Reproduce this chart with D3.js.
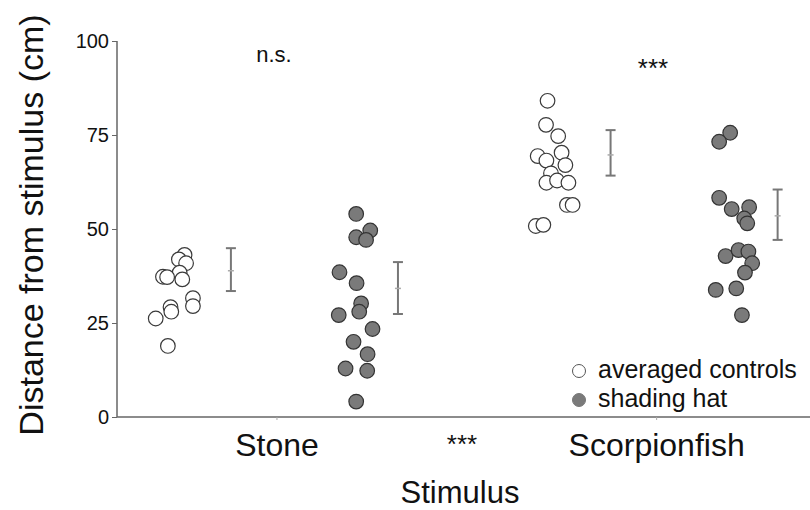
<!DOCTYPE html>
<html>
<head>
<meta charset="utf-8">
<script src="https://cdn.jsdelivr.net/npm/d3@7"></script>
<style>
  body { margin: 0; background: #fff; }
  text { font-family: "Liberation Sans", Arial, sans-serif; fill: #111; }
</style>
</head>
<body>
<svg id="chart" width="810" height="510"></svg>
<script>
// categories and groups
const stimuli = ["Stone", "Scorpionfish"]
const groups = ["averaged controls", "shading hat"]
const y_ticks = [0, 25, 50, 75, 100]

// distances (cm), with the jitter used to spread them
const stone_control = [43.1, 41.9, 40.9, 38.4, 36.6, 37.3, 37.2, 31.6, 29.5, 29.2, 28.0, 26.2, 18.9]
const stone_control_jit = [0.028, 0.013, 0.032, 0.015, 0.022, -0.029, -0.018, 0.05, 0.05, -0.009, -0.007, -0.048, -0.016]
const stone_hat = [54.0, 49.6, 47.8, 47.1, 38.5, 35.6, 30.2, 28.0, 27.1, 23.4, 20.0, 16.7, 12.9, 12.3, 4.1]
const stone_hat_jit = [0, 0.037, 0, 0.026, -0.044, 0.001, 0.013, 0.008, -0.046, 0.043, -0.007, 0.03, -0.028, 0.029, 0]
const scorp_control = [84.1, 77.7, 74.7, 69.4, 70.3, 68.2, 67.0, 64.8, 62.3, 62.9, 62.3, 56.4, 56.4, 50.8, 51.1]
const scorp_control_jit = [-0.016, -0.02, 0.012, -0.042, 0.021, -0.019, 0.031, -0.007, -0.019, 0.009, 0.039, 0.035, 0.05, -0.047, -0.027]
const scorp_hat = [75.6, 73.2, 58.3, 55.3, 55.8, 52.8, 51.5, 42.8, 44.4, 44.0, 40.9, 38.4, 33.8, 34.2, 27.1]
const scorp_hat_jit = [-0.015, -0.044, -0.044, -0.011, 0.035, 0.022, 0.03, -0.027, 0.007, 0.033, 0.043, 0.024, -0.053, 0.001, 0.016]

// mean and error bar limits per group
const means = [38.9, 34.2, 69.7, 53.5]
const err_lo = [33.5, 27.4, 64.2, 47.1]
const err_hi = [44.9, 41.2, 76.3, 60.5]

const svg = d3.select("#chart")
const font = "Liberation Sans, Arial, sans-serif"

const x = d3.scaleLinear().domain([0.58, 2.4]).range([117, 808])
const y = d3.scaleLinear().domain([0, 100]).range([417, 41])

// offsets of each group inside a stimulus
const point_off = {"averaged controls": -0.27, "shading hat": 0.21}
const bar_off = {"averaged controls": -0.12, "shading hat": 0.32}

const series = [
  {stim: 1, group: groups[0], vals: stone_control, jit: stone_control_jit, i: 0},
  {stim: 1, group: groups[1], vals: stone_hat, jit: stone_hat_jit, i: 1},
  {stim: 2, group: groups[0], vals: scorp_control, jit: scorp_control_jit, i: 2},
  {stim: 2, group: groups[1], vals: scorp_hat, jit: scorp_hat_jit, i: 3}
]

const fill = d3.scaleOrdinal().domain(groups).range(["#ffffff", "#7a7a7a"])
const stroke = d3.scaleOrdinal().domain(groups).range(["#3a3a3a", "#333333"])

// axes
const y_axis = d3.axisLeft(y).tickValues(y_ticks).tickSize(5).tickPadding(3)
const ya = svg.append("g").attr("transform", "translate(117,0)").call(y_axis)
ya.select(".domain").attr("stroke", "#666").attr("stroke-width", 1.5).attr("d", `M0,${y(100)}V${y(0)}`)
ya.selectAll(".tick line").attr("stroke", "#666")
ya.selectAll(".tick text").attr("font-size", 20).attr("font-family", font).attr("fill", "#111")

const x_axis = d3.axisBottom(x).tickValues([1, 2]).tickSize(3).tickFormat(d => stimuli[d - 1]).tickPadding(13)
const xa = svg.append("g").attr("transform", `translate(0,${y(0)})`).call(x_axis)
xa.select(".domain").attr("stroke", "#666").attr("stroke-width", 1.5).attr("d", `M117,0H810`)
xa.selectAll(".tick line").attr("stroke", "#aaa")
xa.selectAll(".tick text").attr("font-size", 32).attr("font-family", font).attr("fill", "#111")

svg.append("text")
  .attr("transform", `translate(43,225) rotate(-90)`)
  .attr("text-anchor", "middle")
  .attr("font-size", 34)
  .text("Distance from stimulus (cm)")

svg.append("text")
  .attr("x", 460).attr("y", 503)
  .attr("text-anchor", "middle")
  .attr("font-size", 31)
  .text("Stimulus")

// error bars
const cap = 5
series.forEach(s => {
  const cx = x(s.stim + bar_off[s.group])
  const g = svg.append("g").attr("stroke", "#777").attr("stroke-width", 2)
  g.append("line").attr("x1", cx).attr("x2", cx).attr("y1", y(err_lo[s.i])).attr("y2", y(err_hi[s.i]))
  g.append("line").attr("x1", cx - cap).attr("x2", cx + cap).attr("y1", y(err_lo[s.i])).attr("y2", y(err_lo[s.i]))
  g.append("line").attr("x1", cx - cap).attr("x2", cx + cap).attr("y1", y(err_hi[s.i])).attr("y2", y(err_hi[s.i]))
  g.append("line").attr("x1", cx - 3).attr("x2", cx + 3).attr("y1", y(means[s.i])).attr("y2", y(means[s.i]))
    .attr("stroke", "#aaa").attr("stroke-width", 1.5)
})

// points
series.forEach(s => {
  svg.append("g").selectAll("circle")
    .data(s.vals)
    .enter()
    .append("circle")
    .attr("cx", (d, i) => x(s.stim + point_off[s.group] + s.jit[i]))
    .attr("cy", d => y(d))
    .attr("r", 7.3)
    .attr("fill", fill(s.group))
    .attr("stroke", stroke(s.group))
    .attr("stroke-width", 1.2)
})

// significance labels
svg.append("text").attr("x", 274).attr("y", 62).attr("text-anchor", "middle").attr("font-size", 22).text("n.s.")
svg.append("text").attr("x", 653).attr("y", 77).attr("text-anchor", "middle").attr("font-size", 26).text("***")
svg.append("text").attr("x", 462).attr("y", 453).attr("text-anchor", "middle").attr("font-size", 26).text("***")

// legend
const legend = svg.append("g").attr("transform", "translate(579,371)")
groups.forEach((g, i) => {
  legend.append("circle").attr("cx", 0).attr("cy", i * 29).attr("r", 6.5)
    .attr("fill", fill(g)).attr("stroke", i == 0 ? "#555" : "#777").attr("stroke-width", 1)
  legend.append("text").attr("x", 19).attr("y", i * 29 + 7).attr("font-size", 25).text(g)
})
</script>
</body>
</html>
